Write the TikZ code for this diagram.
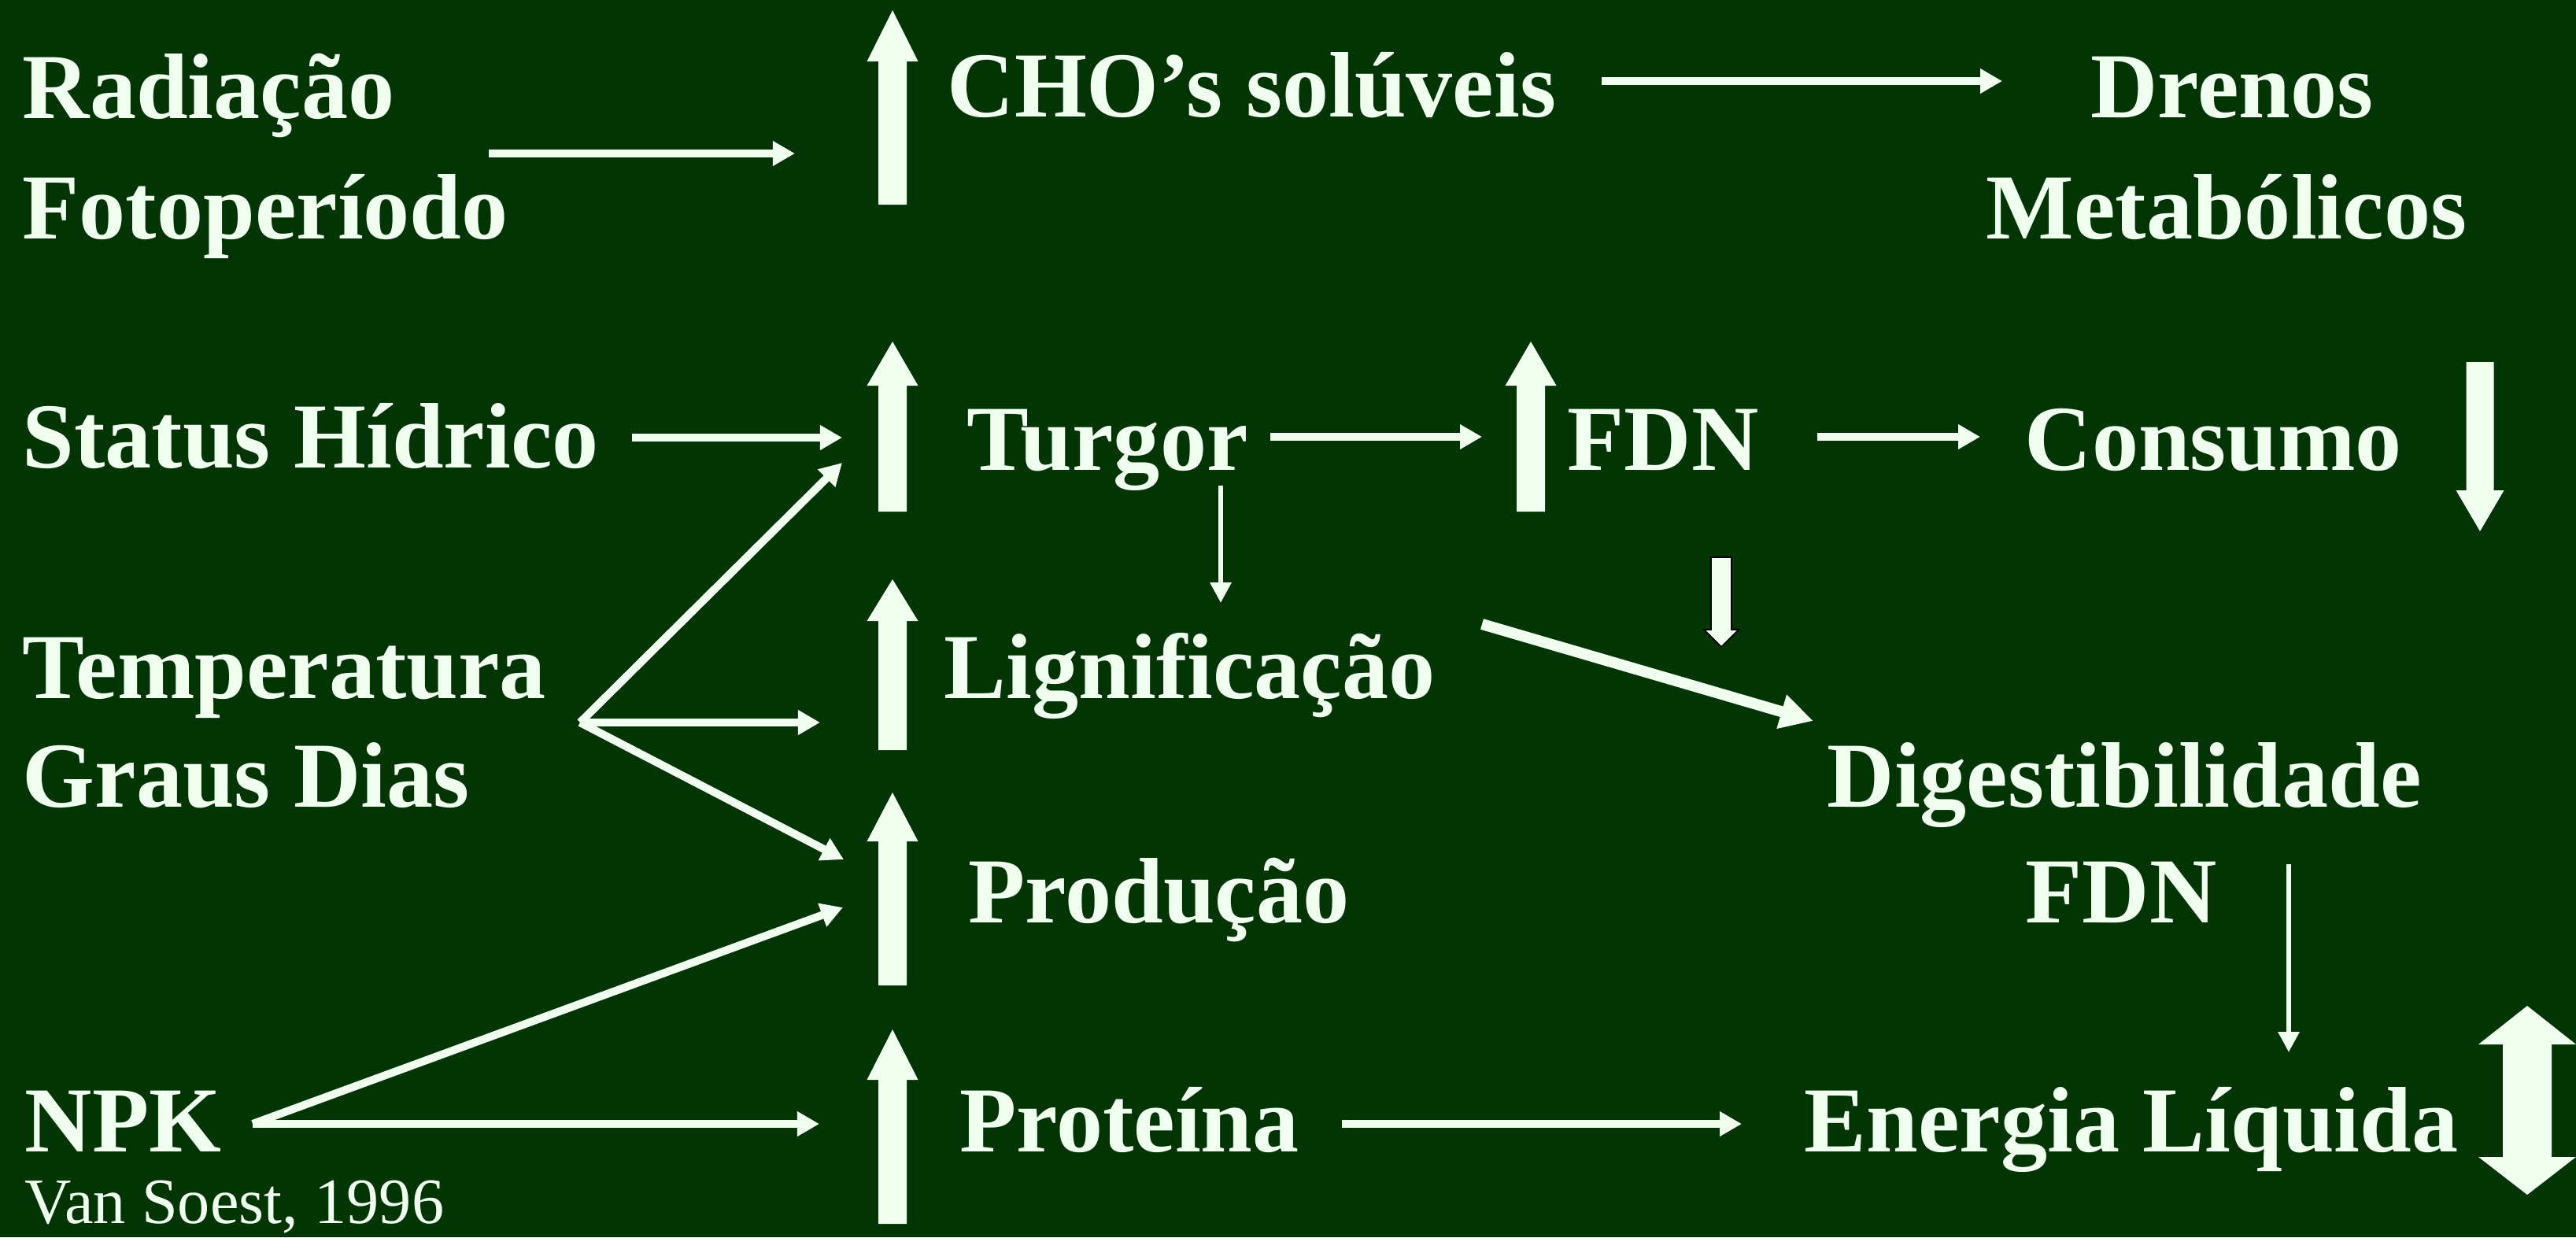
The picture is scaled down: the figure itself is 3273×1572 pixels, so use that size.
\documentclass[tikz,border=0pt]{standalone}
\usepackage{fontspec}
\setmainfont{Liberation Serif}
\usetikzlibrary{arrows.meta}
\definecolor{bg}{RGB}{2,52,4}
\definecolor{fg}{RGB}{240,255,240}
% block arrow: x, tip y, head-base y, tail y, shaft width, head width
\newcommand\blkarrow[6]{%
  \fill[fg] ({#1-#5/2},#4) -- ({#1-#5/2},#3) -- ({#1-#6/2},#3) -- (#1,#2)
    -- ({#1+#6/2},#3) -- ({#1+#5/2},#3) -- ({#1+#5/2},#4) -- cycle;}
\begin{document}
\begin{tikzpicture}[x=0.01cm,y=-0.01cm,
  txt/.style={font=\fontsize{33.6}{40}\selectfont\bfseries,text=fg,inner sep=0pt,anchor=base west},
  ctxt/.style={txt,anchor=base},
  small/.style={font=\fontsize{23.4}{26}\selectfont,text=fg,inner sep=0pt,anchor=base west},
  conn/.style={draw=fg,line width=0.1cm,-{Triangle[length=0.28cm,width=0.30cm]}},
  thinconn/.style={draw=fg,line width=0.06cm,-{Triangle[length=0.26cm,width=0.26cm]}},
  thickconn/.style={draw=fg,line width=0.14cm,-{Triangle[length=0.42cm,width=0.42cm]}}]
\useasboundingbox (0,0) rectangle (3273,1572);
\fill[bg] (0,0) rectangle (3273,1572);

% texts
\node[txt] (rad) at (28,150) {Radiação};
\node[txt] (foto) at (28,303) {Fotoperíodo};
\node[txt] (cho) at (1203,148) {CHO’s solúveis};
\node[ctxt] (dren) at (2836,149) {Drenos};
\node[ctxt] (meta) at (2829,303) {Metabólicos};
\node[txt] (stat) at (28,594) {Status Hídrico};
\node[txt] (turg) at (1228,597) {Turgor};
\node[txt] (fdn1) at (1991,597) {FDN};
\node[txt] (cons) at (2572,597) {Consumo};
\node[txt] (temp) at (28,887) {Temperatura};
\node[txt] (lign) at (1199,887) {Lignificação};
\node[txt] (grau) at (28,1025) {Graus Dias};
\node[txt] (dig) at (2321,1025) {Digestibilidade};
\node[txt] (prod) at (1230,1172) {Produção};
\node[txt] (fdn2) at (2573,1172) {FDN};
\node[txt] (npk) at (31,1463) {NPK};
\node[txt] (prot) at (1219,1463) {Proteína};
\node[txt] (ener) at (2292,1463) {Energia Líquida};
\node[small] (ref) at (31,1554) {Van Soest, 1996};

% block arrows
\blkarrow{1134}{13}{78}{260}{36}{65}
\blkarrow{1134}{434}{490}{650}{36}{65}
\blkarrow{1945}{434}{490}{650}{36}{65}
\blkarrow{1134}{736}{789}{953}{36}{65}
\blkarrow{1134}{1007}{1069}{1252}{36}{65}
\blkarrow{1134}{1308}{1372}{1555}{36}{65}
\blkarrow{3151}{675}{623}{460}{35}{61}
\fill[fg,draw=black,line width=0.5pt] (2174,708) -- (2174,800) -- (2165,800) -- (2187,822)
  -- (2209,800) -- (2200,800) -- (2200,708) -- cycle;
\fill[fg] (3180,1327) -- (3149,1327) -- (3211,1278) -- (3273,1327) -- (3242,1327)
  -- (3242,1470) -- (3273,1470) -- (3211,1518) -- (3149,1470) -- (3180,1470) -- cycle;

% connector end points
\coordinate (a1s) at (621,195);  \coordinate (a1e) at (1010,195);
\coordinate (a2s) at (2035,103); \coordinate (a2e) at (2544,103);
\coordinate (a3s) at (803,556);  \coordinate (a3e) at (1070,556);
\coordinate (a4s) at (1614,555); \coordinate (a4e) at (1883,555);
\coordinate (a5s) at (2309,555); \coordinate (a5e) at (2516,555);
\coordinate (a6s) at (1551,617); \coordinate (a6e) at (1551,766);
\coordinate (fan) at (737,918);
\coordinate (f1e) at (1070,588); \coordinate (f2e) at (1042,918); \coordinate (f3e) at (1072,1092);
\coordinate (tks) at (1883,793); \coordinate (tke) at (2304,916);
\coordinate (a7s) at (2908,1098); \coordinate (a7e) at (2908,1337);
\coordinate (npko) at (321,1428);
\coordinate (n1e) at (1071,1153); \coordinate (n2e) at (1041,1428);
\coordinate (a8s) at (1705,1428); \coordinate (a8e) at (2213,1428);

% connectors
\draw[conn] (a1s) -- (a1e);
\draw[conn] (a2s) -- (a2e);
\draw[conn] (a3s) -- (a3e);
\draw[conn] (a4s) -- (a4e);
\draw[conn] (a5s) -- (a5e);
\draw[thinconn] (a6s) -- (a6e);
\draw[conn] (fan) -- (f1e);
\draw[conn] (fan) -- (f2e);
\draw[conn] (fan) -- (f3e);
\draw[thickconn] (tks) -- (tke);
\draw[thinconn] (a7s) -- (a7e);
\draw[conn] (npko) -- (n1e);
\draw[conn] (npko) -- (n2e);
\draw[conn] (a8s) -- (a8e);
\end{tikzpicture}
\end{document}
